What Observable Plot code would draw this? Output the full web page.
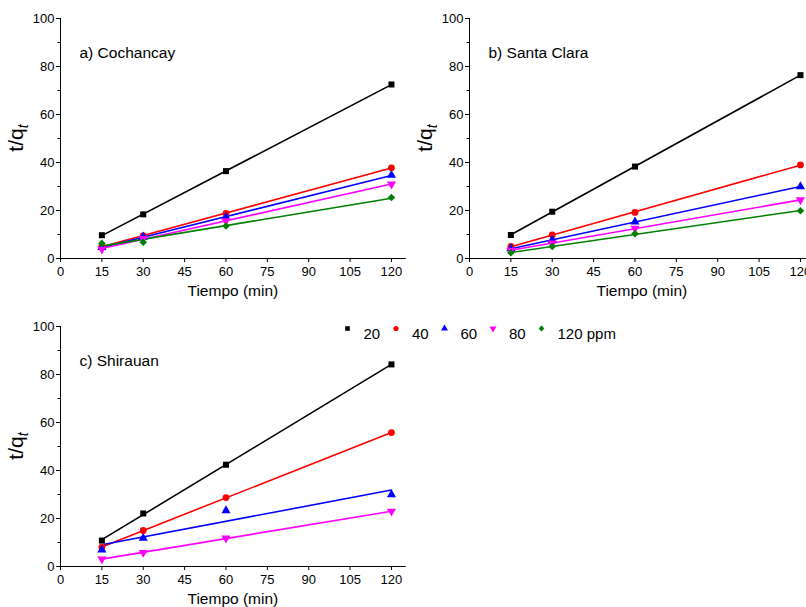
<!DOCTYPE html>
<html><head><meta charset="utf-8">
<script src="https://cdn.jsdelivr.net/npm/d3@7"></script>
<script src="https://cdn.jsdelivr.net/npm/@observablehq/plot@0.6"></script>
<style>
body{margin:0;background:#fff;overflow:hidden;}
#wrap{position:relative;width:806px;height:607px;overflow:hidden;background:#fff;}
.panel{position:absolute;}
</style></head><body><div id="wrap"></div>
<script>
// ---- data ----
const times = [15, 30, 60, 120];
const seriesLabels = ["20", "40", "60", "80", "120 ppm"];
const seriesColors = ["#000000", "#ff0000", "#0000ff", "#ff00ff", "#008000"];
const seriesSymbols = ["square", "circle", "triangle", "triangle", "diamond2"];
const seriesRotate = [0, 0, 0, 180, 0];
const xTicks = [0, 15, 30, 45, 60, 75, 90, 105, 120];
const yTicks = [0, 20, 40, 60, 80, 100];
const yMinorTicks = [10, 30, 50, 70, 90];

// a) Cochancay
const cochancay20 = [9.7, 18.4, 36.4, 72.5];
const cochancay40 = [5.0, 9.5, 18.8, 37.8];
const cochancay60 = [4.6, 9.0, 17.2, 34.7];
const cochancay80 = [3.9, 8.3, 15.7, 31.0];
const cochancay120 = [6.3, 6.8, 13.5, 25.4];
// b) Santa Clara
const santaClara20 = [9.8, 19.5, 38.3, 76.4];
const santaClara40 = [5.0, 9.8, 19.2, 39.0];
const santaClara60 = [4.1, 7.7, 15.3, 30.0];
const santaClara80 = [3.4, 6.4, 12.5, 24.4];
const santaClara120 = [2.4, 5.0, 10.3, 19.9];
// c) Shirauan
const shirauan20 = [10.8, 22.1, 42.4, 84.2];
const shirauan40 = [8.1, 15.0, 28.7, 55.8];
const shirauan60 = [6.9, 11.8, 23.3, 30.0];
const shirauan80 = [3.1, 5.8, 11.8, 23.0];

const FONT = "'Liberation Sans', Arial, sans-serif";
const wrap = document.getElementById("wrap");

function panel(title, series, left, top, width, showLegend) {
  const rows = [];
  series.forEach((vals, s) => { if (vals) vals.forEach((v, j) => rows.push({t: times[j], v, s})); });
  const marks = [
    Plot.frame({anchor: "left", stroke: "#000"}),
    Plot.frame({anchor: "bottom", stroke: "#000"}),
    Plot.axisX({ticks: xTicks, tickSize: 4, tickPadding: 4, tickFormat: d => String(d), label: null}),
    Plot.axisY({ticks: yTicks, tickSize: 4, tickPadding: 2, tickFormat: d => String(d), label: null}),
    Plot.axisY({ticks: yMinorTicks, tickSize: 2.5, tickFormat: () => "", label: null}),
    Plot.linearRegressionY(rows, {x: "t", y: "v", z: "s", stroke: "s", ci: 0, strokeWidth: 1.6})
  ];
  series.forEach((vals, s) => {
    if (!vals) return;
    marks.push(Plot.dot(rows.filter(d => d.s === s), {
      x: "t", y: "v", fill: seriesColors[s], stroke: "none",
      symbol: seriesSymbols[s], rotate: seriesRotate[s], r: 3.4
    }));
  });
  marks.push(Plot.text([title], {frameAnchor: "top-left", dx: 19, dy: 28, textAnchor: "start", fontSize: 15.5}));
  marks.push(Plot.text(["Tiempo (min)"], {frameAnchor: "bottom", dy: 37, fontSize: 15.5}));
  if (showLegend) {
    seriesLabels.forEach((lab, i) => {
      const sx = 287 + i * 48.5;
      marks.push(Plot.dot([lab], {frameAnchor: "top-left", dx: sx, dy: 2, fill: seriesColors[i], stroke: "none",
        symbol: seriesSymbols[i], rotate: seriesRotate[i], r: 2.6}));
      marks.push(Plot.text([lab], {frameAnchor: "top-left", dx: sx + 16, dy: 2, textAnchor: "start", fontSize: 15}));
    });
  }
  const chart = Plot.plot({
    width, height: 310,
    marginLeft: 60, marginRight: width - 404.75, marginTop: 18, marginBottom: 52,
    x: {domain: [0, 125], axis: null},
    y: {domain: [0, 100], axis: null},
    color: {type: "ordinal", domain: [0, 1, 2, 3, 4], range: seriesColors},
    style: {fontFamily: FONT, fontSize: "13px", color: "#000", background: "transparent", maxWidth: "none", overflow: "visible"},
    marks
  });
  // y label t/q_t with subscript
  const svg = d3.select(chart);
  const lab = svg.append("text")
    .attr("transform", "translate(23,138) rotate(-90)")
    .attr("text-anchor", "middle")
    .attr("font-family", FONT)
    .attr("font-size", 21)
    .attr("fill", "#000");
  lab.append("tspan").text("t/q");
  lab.append("tspan").attr("font-size", 14).attr("font-style", "italic").attr("dy", 5).text("t");
  const div = document.createElement("div");
  div.className = "panel";
  div.style.left = left + "px";
  div.style.top = top + "px";
  div.style.width = width + "px";
  div.appendChild(chart);
  wrap.appendChild(div);
}

panel("a) Cochancay", [cochancay20, cochancay40, cochancay60, cochancay80, cochancay120], 0, 0, 410, false);
panel("b) Santa Clara", [santaClara20, santaClara40, santaClara60, santaClara80, santaClara120], 409, 0, 410, false);
panel("c) Shirauan", [shirauan20, shirauan40, shirauan60, shirauan80, null], 0, 308, 640, true);
</script></body></html>
